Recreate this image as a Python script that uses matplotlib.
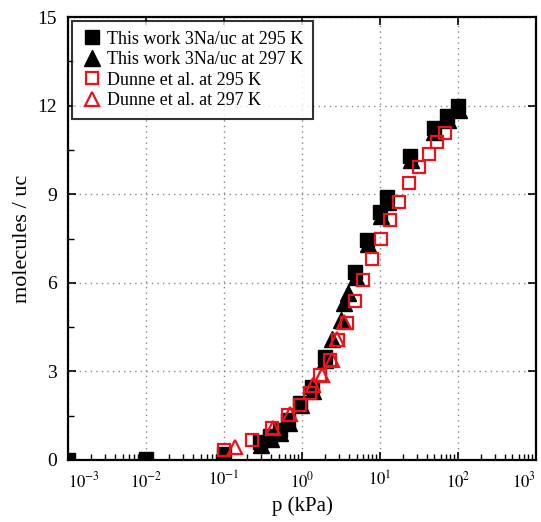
import matplotlib.pyplot as plt
from matplotlib.ticker import LogLocator, MultipleLocator, NullFormatter

plt.rcParams['font.family'] = ['Liberation Serif', 'DejaVu Serif']
plt.rcParams['mathtext.fontset'] = 'stix'

# This work 3Na/uc at 295 K (filled squares)
p_sq295 = [0.001, 0.01, 0.1, 0.29, 0.39, 0.52, 0.66, 0.95, 1.34, 1.95, 4.8, 6.8, 10, 12.3, 24.3, 49, 72, 100]
n_sq295 = [0.0, 0.05, 0.2, 0.6, 0.8, 1.0, 1.35, 1.93, 2.47, 3.5, 6.35, 7.45, 8.4, 8.9, 10.3, 11.25, 11.65, 12.0]

# This work 3Na/uc at 297 K (filled triangles)
p_tr297 = [0.01, 0.1, 0.3, 0.4, 0.53, 0.68, 0.97, 1.38, 2.0, 2.4, 3.2, 3.5, 3.9, 4.9, 7.0, 10.2, 12.5, 25, 50, 74, 102]
n_tr297 = [0.0, 0.1, 0.5, 0.7, 0.9, 1.25, 1.85, 2.35, 3.4, 4.1, 4.75, 5.3, 5.65, 6.2, 7.3, 8.25, 8.75, 10.15, 11.1, 11.5, 11.85]

# Dunne et al. at 295 K (open squares)
p_dsq = [0.1, 0.23, 0.41, 0.66, 0.94, 1.27, 1.7, 2.3, 2.9, 3.77, 4.8, 6.05, 7.9, 10.3, 13.4, 17.5, 23.5, 31.6, 42.5, 53.7, 68]
n_dsq = [0.35, 0.68, 1.08, 1.52, 1.86, 2.26, 2.87, 3.4, 4.05, 4.63, 5.4, 6.08, 6.79, 7.5, 8.14, 8.75, 9.39, 9.93, 10.37, 10.78, 11.08]

# Dunne et al. at 297 K (open triangles)
p_dtr = [0.14, 0.43, 0.7, 1.38, 1.8, 2.4, 2.8, 3.5]
n_dtr = [0.44, 1.08, 1.55, 2.53, 2.87, 3.38, 4.1, 4.66]

x_ticks = [1e-3, 1e-2, 1e-1, 1e0, 1e1, 1e2, 1e3]

fig = plt.figure(figsize=(5.41, 5.22), dpi=100)
ax = fig.add_axes([0.1257, 0.1188, 0.865, 0.8486])

ax.plot(p_tr297, n_tr297, linestyle='none', marker='^', ms=11, color='black',
        label='This work 3Na/uc at 297 K', zorder=3)
ax.plot(p_sq295, n_sq295, linestyle='none', marker='s', ms=9.5, color='black',
        label='This work 3Na/uc at 295 K', zorder=4)
ax.plot(p_dsq, n_dsq, linestyle='none', marker='s', ms=8, mfc='none', mec='#e8141c',
        mew=1.6, label='Dunne et al. at 295 K', zorder=5)
ax.plot(p_dtr, n_dtr, linestyle='none', marker='^', ms=10, mfc='none', mec='#e8141c',
        mew=1.6, label='Dunne et al. at 297 K', zorder=5)

ax.set_xscale('log')
ax.set_xlim(1e-3, 1e3)
ax.set_ylim(0, 15)
ax.yaxis.set_major_locator(MultipleLocator(3))
ax.yaxis.set_minor_locator(MultipleLocator(1.5))
ax.set_xticks(x_ticks)
ax.set_xticklabels([r'$10^{%d}$' % e for e in range(-3, 4)])
ax.xaxis.set_minor_locator(LogLocator(base=10, subs=range(2, 10), numticks=20))
ax.xaxis.set_minor_formatter(NullFormatter())

ax.grid(True, which='major', linestyle=(0, (1, 3)), color='#888888', linewidth=1)
ax.tick_params(which='both', direction='in', top=True, right=True)
ax.tick_params(which='major', length=6, width=1.2, pad=8)
ax.tick_params(which='minor', length=4, width=1.0, top=False, right=False)
ax.tick_params(axis='y', labelsize=14)
ax.tick_params(axis='x', labelsize=12)
ax.get_xticklabels()[0].set_horizontalalignment('left')
ax.get_xticklabels()[-1].set_horizontalalignment('right')
for s in ax.spines.values():
    s.set_linewidth(1.6)

ax.set_xlabel('p (kPa)', fontsize=15, labelpad=4)
ax.set_ylabel('molecules / uc', fontsize=16, labelpad=4)

h, l = ax.get_legend_handles_labels()
order = [1, 0, 2, 3]
leg = ax.legend([h[i] for i in order], [l[i] for i in order], loc='upper left',
                fontsize=13, frameon=True, fancybox=False, borderaxespad=0.2,
                handletextpad=0.2, labelspacing=0.2, borderpad=0.55, handlelength=1.2)
leg.get_frame().set_edgecolor('black')
leg.get_frame().set_linewidth(1.5)

fig.savefig('out.png', dpi=100)
